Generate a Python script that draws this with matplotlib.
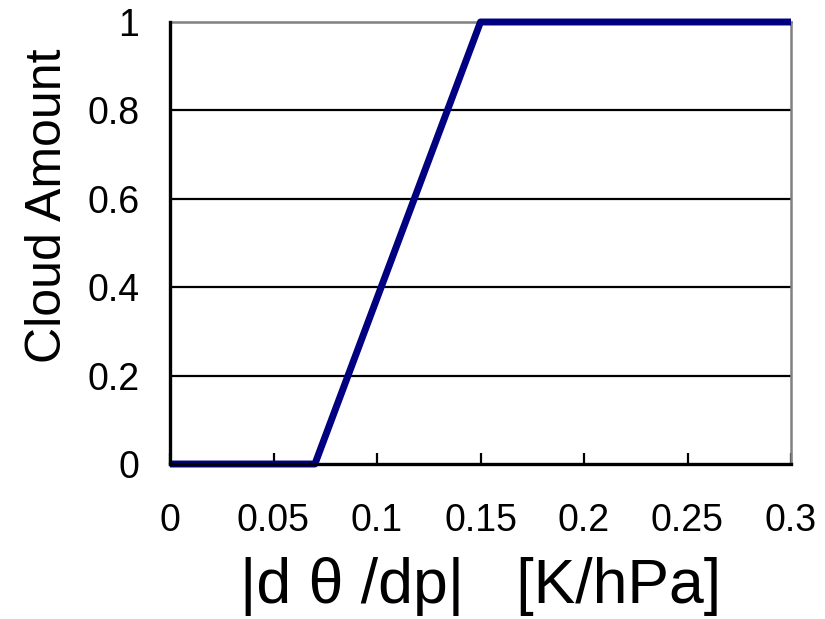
import matplotlib
matplotlib.use("Agg")
import matplotlib.pyplot as plt

# gradient |dtheta/dp| vs cloud amount
x = [0, 0.07, 0.15, 0.3]
y = [0, 0, 1, 1]
xticks = [0, 0.05, 0.1, 0.15, 0.2, 0.25, 0.3]
xticklabels = ["0", "0.05", "0.1", "0.15", "0.2", "0.25", "0.3"]
yticks = [0, 0.2, 0.4, 0.6, 0.8, 1]
yticklabels = ["0", "0.2", "0.4", "0.6", "0.8", "1"]

plt.rcParams['font.family'] = ['Liberation Sans', 'DejaVu Sans']

fig = plt.figure(figsize=(8.25, 6.19), dpi=100)
ax = fig.add_axes([170/825, 155/619, 621/825, 442/619])

ax.plot(x, y, color='#000080', lw=5, solid_capstyle='butt', zorder=3, clip_on=False)

ax.set_xlim(0, 0.3)
ax.set_ylim(0, 1)
ax.set_xticks(xticks)
ax.set_xticklabels(xticklabels)
ax.set_yticks(yticks)
ax.set_yticklabels(yticklabels)

# horizontal gridlines
for v in yticks[1:-1]:
    ax.axhline(v, color='black', lw=1.6, zorder=1)

ax.tick_params(axis='x', direction='in', length=8, width=1.6, pad=28, labelsize=27)
ax.tick_params(axis='y', length=0, pad=22, labelsize=27)

for s in ['left', 'bottom']:
    ax.spines[s].set_linewidth(2.4)
    ax.spines[s].set_color('black')
    ax.spines[s].set_zorder(4)
for s in ['top', 'right']:
    ax.spines[s].set_linewidth(1.8)
    ax.spines[s].set_color('#808080')

ax.set_ylabel("Cloud Amount", fontsize=36)
ax.yaxis.set_label_coords(-0.16, 0.584)
ax.set_xlabel("|d θ /dp|   [K/hPa]", fontsize=45)
ax.xaxis.set_label_coords(0.5, -0.21)

fig.savefig("out.png", dpi=100)
